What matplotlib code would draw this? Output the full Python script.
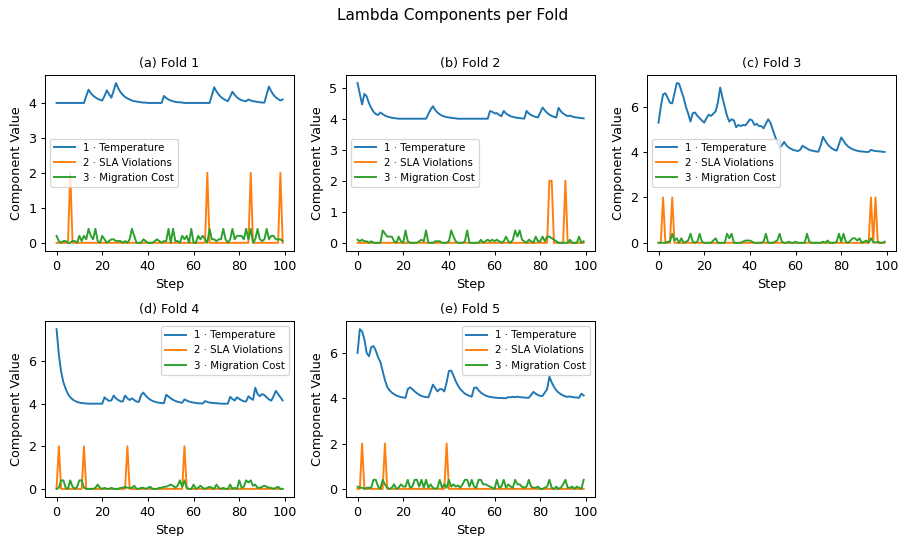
import numpy as np
import matplotlib
matplotlib.use("Agg")
import matplotlib.pyplot as plt

steps = list(range(100))
series_names = ["1 · Temperature", "2 · SLA Violations", "3 · Migration Cost"]
fold_titles = ["(a) Fold 1", "(b) Fold 2", "(c) Fold 3", "(d) Fold 4", "(e) Fold 5"]

# ---------------- Fold 1 ----------------
temp_f1 = [4.0, 4.0, 4.0, 4.0, 4.0, 4.0, 4.0, 4.0, 4.0, 4.0,
           4.0, 4.0, 4.0, 4.2, 4.38, 4.28, 4.21, 4.16, 4.12, 4.09,
           4.07, 4.2, 4.36, 4.25, 4.15, 4.35, 4.57, 4.42, 4.31, 4.23,
           4.17, 4.13, 4.1, 4.07, 4.05, 4.04, 4.03, 4.02, 4.01, 4.01,
           4.0, 4.0, 4.0, 4.0, 4.0, 4.0, 4.0, 4.2, 4.14, 4.1,
           4.07, 4.05, 4.03, 4.02, 4.02, 4.01, 4.0, 4.0, 4.0, 4.0,
           4.0, 4.0, 4.0, 4.0, 4.0, 4.0, 4.0, 4.0, 4.22, 4.45,
           4.33, 4.24, 4.17, 4.12, 4.08, 4.05, 4.18, 4.32, 4.23, 4.16,
           4.11, 4.08, 4.06, 4.05, 4.1, 4.07, 4.05, 4.04, 4.03, 4.02,
           4.01, 4.01, 4.25, 4.47, 4.33, 4.23, 4.16, 4.11, 4.07, 4.1]
sla_f1 = [0, 0, 0, 0, 0, 0, 2, 0, 0, 0,
          0, 0, 0, 0, 0, 0, 0, 0, 0, 0,
          0, 0, 0, 0, 0, 0, 0, 0, 0, 0,
          0, 0, 0, 0, 0, 0, 0, 0, 0, 0,
          0, 0, 0, 0, 0, 0, 0, 0, 0, 0,
          0, 0, 0, 0, 0, 0, 0, 0, 0, 0,
          0, 0, 0, 0, 0, 0, 2, 0, 0, 0,
          0, 0, 0, 0, 0, 0, 0, 0, 0, 0,
          0, 0, 0, 0, 0, 2, 0, 0, 0, 0,
          0, 0, 0, 0, 0, 0, 0, 0, 2, 0]
mig_f1 = [0.2, 0.05, 0.0, 0.05, 0.05, 0.0, 0.0, 0.05, 0.05, 0.0,
          0.2, 0.05, 0.2, 0.1, 0.4, 0.2, 0.1, 0.4, 0.05, 0.0,
          0.2, 0.1, 0.0, 0.05, 0.1, 0.1, 0.05, 0.05, 0.05, 0.0,
          0.05, 0.0, 0.1, 0.4, 0.2, 0.0, 0.0, 0.0, 0.1, 0.05,
          0.0, 0.0, 0.0, 0.05, 0.1, 0.05, 0.0, 0.05, 0.05, 0.4,
          0.0, 0.4, 0.05, 0.05, 0.0, 0.2, 0.1, 0.2, 0.0, 0.4,
          0.0, 0.0, 0.2, 0.1, 0.2, 0.1, 0.0, 0.4, 0.1, 0.1,
          0.05, 0.1, 0.1, 0.4, 0.1, 0.0, 0.1, 0.4, 0.1, 0.2,
          0.2, 0.2, 0.1, 0.4, 0.1, 0.4, 0.0, 0.1, 0.4, 0.1,
          0.05, 0.1, 0.4, 0.1, 0.2, 0.2, 0.1, 0.1, 0.1, 0.05]

# ---------------- Fold 2 ----------------
temp_f2 = [5.15, 4.8, 4.46, 4.8, 4.72, 4.5, 4.35, 4.22, 4.15, 4.12,
           4.2, 4.15, 4.1, 4.07, 4.05, 4.03, 4.02, 4.01, 4.0, 4.0,
           4.0, 4.0, 4.0, 4.0, 4.0, 4.0, 4.0, 4.0, 4.0, 4.0,
           4.0, 4.15, 4.3, 4.4, 4.28, 4.2, 4.14, 4.1, 4.07, 4.05,
           4.04, 4.03, 4.02, 4.01, 4.0, 4.0, 4.0, 4.0, 4.0, 4.0,
           4.0, 4.0, 4.0, 4.0, 4.0, 4.0, 4.0, 4.0, 4.25, 4.22,
           4.17, 4.18, 4.12, 4.08, 4.25, 4.17, 4.12, 4.08, 4.06, 4.04,
           4.03, 4.02, 4.01, 4.0, 4.25, 4.17, 4.12, 4.08, 4.06, 4.04,
           4.2, 4.36, 4.27, 4.19, 4.13, 4.09, 4.06, 4.04, 4.35, 4.24,
           4.17, 4.12, 4.08, 4.1, 4.07, 4.05, 4.04, 4.03, 4.02, 4.01]
sla_f2 = [0, 0, 0, 0, 0, 0, 0, 0, 0, 0,
          0, 0, 0, 0, 0, 0, 0, 0, 0, 0,
          0, 0, 0, 0, 0, 0, 0, 0, 0, 0,
          0, 0, 0, 0, 0, 0, 0, 0, 0, 0,
          0, 0, 0, 0, 0, 0, 0, 0, 0, 0,
          0, 0, 0, 0, 0, 0, 0, 0, 0, 0,
          0, 0, 0, 0, 0, 0, 0, 0, 0, 0,
          0, 0, 0, 0, 0, 0, 0, 0, 0, 0,
          0, 0, 0, 0, 2, 2, 0, 0, 0, 0,
          0, 2, 0, 0, 0, 0, 0, 0, 0, 0]
mig_f2 = [0.1, 0.05, 0.1, 0.05, 0.05, 0.0, 0.05, 0.0, 0.0, 0.0,
          0.0, 0.4, 0.3, 0.2, 0.2, 0.2, 0.05, 0.0, 0.2, 0.05,
          0.0, 0.4, 0.05, 0.0, 0.0, 0.0, 0.0, 0.05, 0.1, 0.05,
          0.4, 0.0, 0.0, 0.0, 0.05, 0.05, 0.05, 0.0, 0.0, 0.0,
          0.05, 0.4, 0.2, 0.05, 0.0, 0.0, 0.0, 0.05, 0.4, 0.0,
          0.0, 0.0, 0.0, 0.0, 0.1, 0.0, 0.05, 0.1, 0.05, 0.1,
          0.05, 0.1, 0.05, 0.0, 0.05, 0.2, 0.05, 0.0, 0.1, 0.4,
          0.2, 0.4, 0.1, 0.05, 0.0, 0.1, 0.05, 0.0, 0.2, 0.05,
          0.05, 0.2, 0.05, 0.2, 0.2, 0.15, 0.1, 0.05, 0.0, 0.0,
          0.0, 0.0, 0.0, 0.1, 0.0, 0.0, 0.0, 0.2, 0.0, 0.05]

# ---------------- Fold 3 ----------------
temp_f3 = [5.3, 6.0, 6.55, 6.6, 6.4, 6.18, 6.15, 6.6, 7.05, 7.02,
           6.7, 6.4, 6.0, 5.7, 5.35, 5.72, 5.75, 5.6, 5.5, 5.4,
           5.3, 5.5, 5.65, 5.6, 5.7, 5.8, 6.2, 6.85, 6.4, 6.0,
           5.6, 5.35, 5.45, 5.4, 5.1, 5.2, 5.15, 5.2, 5.18, 5.3,
           5.45, 5.4, 5.2, 5.25, 5.15, 5.15, 5.05, 5.25, 5.45, 5.3,
           5.0, 4.7, 4.45, 4.2, 4.3, 4.45, 4.3, 4.2, 4.15, 4.1,
           4.07, 4.05, 4.1, 4.28, 4.22, 4.16, 4.1, 4.07, 4.05, 4.03,
           4.02, 4.3, 4.68, 4.5, 4.35, 4.24, 4.16, 4.1, 4.07, 4.35,
           4.65, 4.5, 4.35, 4.25, 4.18, 4.13, 4.09, 4.06, 4.04, 4.03,
           4.02, 4.01, 4.01, 4.1, 4.07, 4.05, 4.04, 4.03, 4.02, 4.01]
sla_f3 = [0, 0, 2, 0, 0, 0, 2, 0, 0, 0,
          0, 0, 0, 0, 0, 0, 0, 0, 0, 0,
          0, 0, 0, 0, 0, 0, 0, 0, 0, 0,
          0, 0, 0, 0, 0, 0, 0, 0, 0, 0,
          0, 0, 0, 0, 0, 0, 0, 0, 0, 0,
          0, 0, 0, 0, 0, 0, 0, 0, 0, 0,
          0, 0, 0, 0, 0, 0, 0, 0, 0, 0,
          0, 0, 0, 0, 0, 0, 0, 0, 0, 0,
          0, 0, 0, 0, 0, 0, 0, 0, 0, 0,
          0, 0, 0, 2, 0, 2, 0, 0, 0, 0]
mig_f3 = [0.0, 0.0, 0.0, 0.0, 0.05, 0.05, 0.4, 0.1, 0.2, 0.0,
          0.2, 0.0, 0.05, 0.1, 0.4, 0.05, 0.0, 0.05, 0.4, 0.05,
          0.0, 0.0, 0.0, 0.0, 0.1, 0.2, 0.0, 0.0, 0.0, 0.0,
          0.4, 0.2, 0.4, 0.0, 0.0, 0.0, 0.0, 0.05, 0.1, 0.1,
          0.1, 0.05, 0.0, 0.0, 0.0, 0.0, 0.05, 0.4, 0.0, 0.0,
          0.0, 0.05, 0.1, 0.4, 0.05, 0.0, 0.0, 0.05, 0.0, 0.0,
          0.05, 0.0, 0.0, 0.0, 0.0, 0.4, 0.05, 0.0, 0.0, 0.0,
          0.0, 0.0, 0.05, 0.0, 0.1, 0.0, 0.0, 0.0, 0.05, 0.4,
          0.05, 0.4, 0.05, 0.0, 0.1, 0.2, 0.2, 0.1, 0.2, 0.0,
          0.05, 0.1, 0.0, 0.2, 0.05, 0.0, 0.05, 0.0, 0.0, 0.05]

# ---------------- Fold 4 ----------------
temp_f4 = [7.5, 6.3, 5.5, 5.0, 4.7, 4.45, 4.3, 4.2, 4.13, 4.08,
           4.05, 4.03, 4.02, 4.01, 4.0, 4.0, 4.0, 4.0, 4.0, 4.0,
           4.0, 4.3, 4.2, 4.13, 4.15, 4.38, 4.25, 4.17, 4.11, 4.1,
           4.38, 4.25, 4.17, 4.25, 4.17, 4.1, 4.08, 4.4, 4.52, 4.38,
           4.27, 4.19, 4.13, 4.09, 4.06, 4.04, 4.03, 4.02, 4.42, 4.33,
           4.25, 4.18, 4.13, 4.09, 4.06, 4.04, 4.2, 4.15, 4.1, 4.07,
           4.05, 4.03, 4.02, 4.01, 4.01, 4.12, 4.08, 4.05, 4.04, 4.03,
           4.02, 4.01, 4.0, 4.0, 4.0, 4.0, 4.32, 4.22, 4.15, 4.3,
           4.22, 4.16, 4.11, 4.1, 4.35, 4.25, 4.18, 4.75, 4.45, 4.35,
           4.45, 4.4, 4.3, 4.2, 4.14, 4.35, 4.6, 4.45, 4.3, 4.15]
sla_f4 = [0, 2, 0, 0, 0, 0, 0, 0, 0, 0,
          0, 0, 2, 0, 0, 0, 0, 0, 0, 0,
          0, 0, 0, 0, 0, 0, 0, 0, 0, 0,
          0, 2, 0, 0, 0, 0, 0, 0, 0, 0,
          0, 0, 0, 0, 0, 0, 0, 0, 0, 0,
          0, 0, 0, 0, 0, 0, 2, 0, 0, 0,
          0, 0, 0, 0, 0, 0, 0, 0, 0, 0,
          0, 0, 0, 0, 0, 0, 0, 0, 0, 0,
          0, 0, 0, 0, 0, 0, 0, 0, 0, 0,
          0, 0, 0, 0, 0, 0, 0, 0, 0, 0]
mig_f4 = [0.0, 0.05, 0.4, 0.4, 0.05, 0.0, 0.4, 0.1, 0.0, 0.1,
          0.4, 0.4, 0.05, 0.0, 0.0, 0.0, 0.0, 0.05, 0.2, 0.05,
          0.0, 0.05, 0.0, 0.0, 0.05, 0.0, 0.0, 0.0, 0.05, 0.05,
          0.1, 0.05, 0.05, 0.05, 0.15, 0.0, 0.0, 0.05, 0.05, 0.0,
          0.05, 0.1, 0.0, 0.0, 0.0, 0.05, 0.05, 0.1, 0.1, 0.15,
          0.2, 0.15, 0.05, 0.15, 0.4, 0.1, 0.4, 0.05, 0.0, 0.0,
          0.2, 0.0, 0.05, 0.15, 0.05, 0.0, 0.05, 0.1, 0.05, 0.0,
          0.2, 0.05, 0.0, 0.05, 0.0, 0.0, 0.2, 0.0, 0.05, 0.0,
          0.4, 0.05, 0.1, 0.4, 0.3, 0.4, 0.15, 0.2, 0.05, 0.05,
          0.1, 0.15, 0.1, 0.05, 0.05, 0.0, 0.05, 0.1, 0.0, 0.0]

# ---------------- Fold 5 ----------------
temp_f5 = [6.0, 7.05, 6.95, 6.6, 6.0, 5.85, 6.25, 6.3, 6.1, 5.8,
           5.6, 5.2, 4.8, 4.5, 4.35, 4.25, 4.18, 4.12, 4.08, 4.05,
           4.03, 4.02, 4.4, 4.48, 4.4, 4.3, 4.22, 4.15, 4.1, 4.07,
           4.05, 4.04, 4.3, 4.6, 4.45, 4.3, 4.4, 4.4, 4.3, 4.7,
           5.2, 5.22, 5.0, 4.75, 4.55, 4.4, 4.3, 4.2, 4.15, 4.1,
           4.07, 4.45, 4.48, 4.35, 4.25, 4.18, 4.12, 4.08, 4.06, 4.04,
           4.03, 4.02, 4.01, 4.01, 4.0, 4.0, 4.05, 4.04, 4.06, 4.05,
           4.07, 4.05, 4.04, 4.03, 4.02, 4.02, 4.15, 4.28, 4.2, 4.14,
           4.1, 4.1, 4.25, 4.4, 4.95, 4.7, 4.5, 4.35, 4.25, 4.18,
           4.12, 4.08, 4.06, 4.08, 4.05, 4.04, 4.03, 4.02, 4.2, 4.12]
sla_f5 = [0, 0, 2, 0, 0, 0, 0, 0, 0, 0,
          0, 0, 2, 0, 0, 0, 0, 0, 0, 0,
          0, 0, 0, 0, 0, 0, 0, 0, 0, 0,
          0, 0, 0, 0, 0, 0, 0, 0, 0, 2,
          0, 0, 0, 0, 0, 0, 0, 0, 0, 0,
          0, 0, 0, 0, 0, 0, 0, 0, 0, 0,
          0, 0, 0, 0, 0, 0, 0, 0, 0, 0,
          0, 0, 0, 0, 0, 0, 0, 0, 0, 0,
          0, 0, 0, 0, 0, 0, 0, 0, 0, 0,
          0, 0, 0, 0, 0, 0, 0, 0, 0, 0]
mig_f5 = [0.1, 0.05, 0.05, 0.0, 0.05, 0.05, 0.05, 0.4, 0.4, 0.1,
          0.0, 0.4, 0.2, 0.05, 0.0, 0.05, 0.2, 0.0, 0.05, 0.2,
          0.1, 0.1, 0.4, 0.05, 0.1, 0.4, 0.4, 0.1, 0.4, 0.05,
          0.4, 0.05, 0.2, 0.05, 0.0, 0.05, 0.4, 0.05, 0.2, 0.05,
          0.4, 0.1, 0.2, 0.1, 0.15, 0.05, 0.2, 0.4, 0.4, 0.1,
          0.4, 0.1, 0.05, 0.4, 0.4, 0.2, 0.2, 0.15, 0.1, 0.05,
          0.0, 0.4, 0.05, 0.1, 0.4, 0.05, 0.2, 0.1, 0.05, 0.4,
          0.2, 0.2, 0.1, 0.05, 0.1, 0.4, 0.1, 0.05, 0.05, 0.1,
          0.0, 0.0, 0.05, 0.1, 0.4, 0.05, 0.0, 0.1, 0.0, 0.05,
          0.2, 0.4, 0.05, 0.05, 0.1, 0.0, 0.1, 0.05, 0.0, 0.4]

folds = [
    (temp_f1, sla_f1, mig_f1),
    (temp_f2, sla_f2, mig_f2),
    (temp_f3, sla_f3, mig_f3),
    (temp_f4, sla_f4, mig_f4),
    (temp_f5, sla_f5, mig_f5),
]
legend_locs = ["center left", "center left", "center left", "upper right", "upper right"]

# reference looks like a slightly downscaled render, so use dpi 92
DPI = 92
fig, axes = plt.subplots(2, 3, figsize=(905 / DPI, 536 / DPI), dpi=DPI)
fig.subplots_adjust(left=0.05, right=0.99, top=0.86, bottom=0.073, wspace=0.21, hspace=0.4)
fig.suptitle("Lambda Components per Fold", fontsize=12, y=0.985)

for i, ax in enumerate(axes.flat):
    if i >= len(folds):
        ax.axis("off")
        continue
    for values, name in zip(folds[i], series_names):
        ax.plot(steps, values, label=name)
    ax.set_title(fold_titles[i], fontsize=10)
    ax.set_xlabel("Step")
    ax.set_ylabel("Component Value")
    ax.set_xticks([0, 20, 40, 60, 80, 100])
    ax.legend(loc=legend_locs[i], fontsize=8)

fig.savefig("out.png", dpi=DPI)
